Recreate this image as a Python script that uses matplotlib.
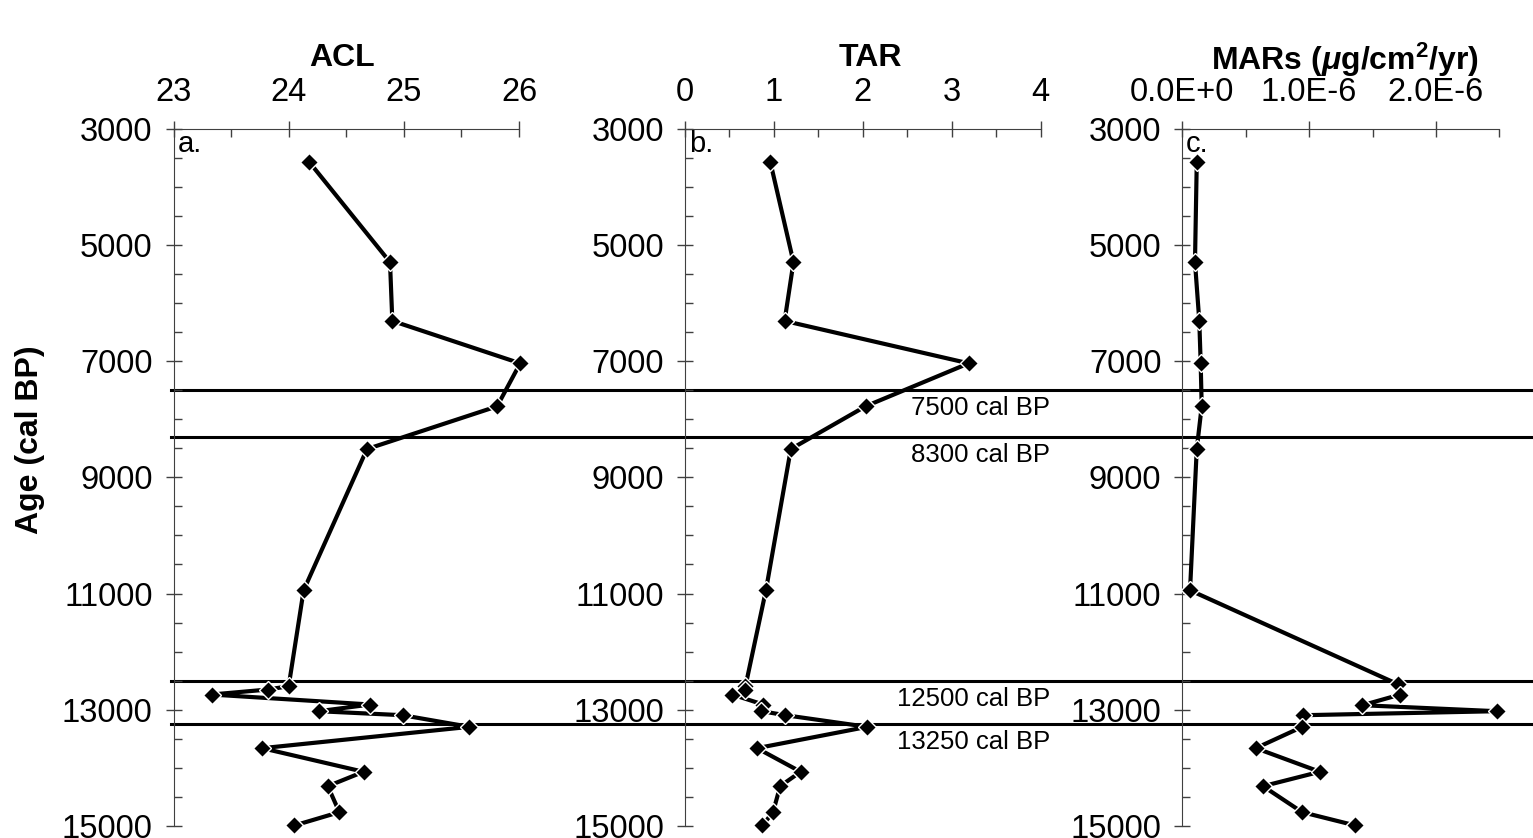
import matplotlib
matplotlib.use('Agg')
import matplotlib.pyplot as plt
from matplotlib.ticker import MultipleLocator, FuncFormatter

plt.rcParams['font.family'] = 'Liberation Sans'
plt.rcParams['mathtext.fontset'] = 'custom'
plt.rcParams['mathtext.rm'] = 'Liberation Sans:bold'
plt.rcParams['mathtext.it'] = 'Liberation Sans:italic:bold'
plt.rcParams['mathtext.bf'] = 'Liberation Sans:bold'

# Idades (cal BP)
age = [3580, 5300, 6310, 7040, 7780, 8515, 10945, 12595, 12652, 12738,
       12910, 13025, 13094, 13294, 13661, 14067, 14315, 14762, 14991]
acl = [24.18, 24.88, 24.90, 26.01, 25.81, 24.68, 24.13, 24.00, 23.82, 23.33,
       24.71, 24.26, 24.99, 25.57, 23.77, 24.65, 24.34, 24.44, 24.05]
tar = [0.96, 1.22, 1.12, 3.19, 2.03, 1.19, 0.91, 0.68, 0.67, 0.53,
       0.88, 0.86, 1.13, 2.05, 0.81, 1.30, 1.07, 0.99, 0.87]

# MARs (em unidades de 1E-6 ug/cm2/yr)
age_mars = [3580, 5300, 6310, 7040, 7780, 8515, 10945, 12560, 12738, 12922,
            13025, 13094, 13294, 13661, 14067, 14315, 14762, 14991]
mars = [0.114, 0.10, 0.134, 0.145, 0.153, 0.114, 0.061, 1.70, 1.72, 1.42,
        2.48, 0.955, 0.946, 0.58, 1.085, 0.637, 0.945, 1.365]

boundaries = [7500, 8300, 12500, 13250]
y_major = list(range(3000, 15001, 2000))
y_minor = [a for a in range(3500, 15000, 500) if a not in y_major]

W, H = 1533, 838
fig = plt.figure(figsize=(W / 100, H / 100), dpi=100)


def px_axes(x0, x1, y0=128.5, y1=826):
    return fig.add_axes([x0 / W, 1 - y1 / H, (x1 - x0) / W, (y1 - y0) / H])


ax1 = px_axes(173.5, 519)
ax2 = px_axes(685, 1040.7)
ax3 = px_axes(1182.3, 1499.3)

spine_color = '#404040'
for ax in (ax1, ax2, ax3):
    ax.set_facecolor('none')
    ax.set_ylim(15000, 3000)
    ax.xaxis.tick_top()
    ax.spines['right'].set_visible(False)
    ax.spines['bottom'].set_visible(False)
    ax.spines['top'].set_color(spine_color)
    ax.spines['left'].set_color(spine_color)
    ax.set_yticks(y_major)
    ax.set_yticks(y_minor, minor=True)
    ax.tick_params(which='major', direction='inout', length=12, width=1,
                   labelsize=23.5, color=spine_color, pad=9)
    ax.tick_params(which='minor', direction='in', length=6, width=1,
                   color=spine_color)

line_kw = dict(color='black', lw=3, marker='D', ms=9, mfc='black',
               mec='white', mew=1, clip_on=False, zorder=3)

ax1.plot(acl, age, **line_kw)
ax1.set_xlim(23, 26)
ax1.xaxis.set_major_locator(MultipleLocator(1))
ax1.xaxis.set_minor_locator(MultipleLocator(0.5))

ax2.plot(tar, age, **line_kw)
ax2.set_xlim(0, 4)
ax2.xaxis.set_major_locator(MultipleLocator(1))
ax2.xaxis.set_minor_locator(MultipleLocator(0.5))

ax3.plot(mars, age_mars, **line_kw)
ax3.set_xlim(0, 2.5)
ax3.set_xticks([0, 1, 2])
ax3.set_xticks([0.5, 1.5, 2.5], minor=True)
ax3.xaxis.set_major_formatter(FuncFormatter(
    lambda v, pos: '0.0E+0' if v == 0 else f'{v:.1f}E-6'))

# Letras dos paineis
for ax, letter in zip((ax1, ax2, ax3), ('a.', 'b.', 'c.')):
    ax.text(0.012, 0.998, letter, transform=ax.transAxes, ha='left', va='top',
            fontsize=21)

# Linhas horizontais atravessando os tres paineis
xmax = (W - 171) / (519 - 173.5)
for b in boundaries:
    ax1.axhline(b, xmin=-0.007, xmax=xmax, color='black', lw=2.2,
                clip_on=False, zorder=1)
    ax2.annotate(f'{b} cal BP', xy=(1.026, b), xycoords=('axes fraction', 'data'),
                 xytext=(0, -13), textcoords='offset points', ha='right',
                 va='center', fontsize=18.5)

# Titulos
title_kw = dict(ha='center', va='center', fontsize=23, fontweight='bold')
fig.text(342 / W, 1 - 58 / H, 'ACL', **title_kw)
fig.text(870 / W, 1 - 58 / H, 'TAR', **title_kw)
fig.text(1345 / W, 1 - 60 / H, r'MARs ($\mu$g/cm$^2$/yr)', **title_kw)
fig.text(30 / W, 1 - 440 / H, 'Age (cal BP)', rotation=90, **title_kw)

fig.savefig('out.png', dpi=100)
